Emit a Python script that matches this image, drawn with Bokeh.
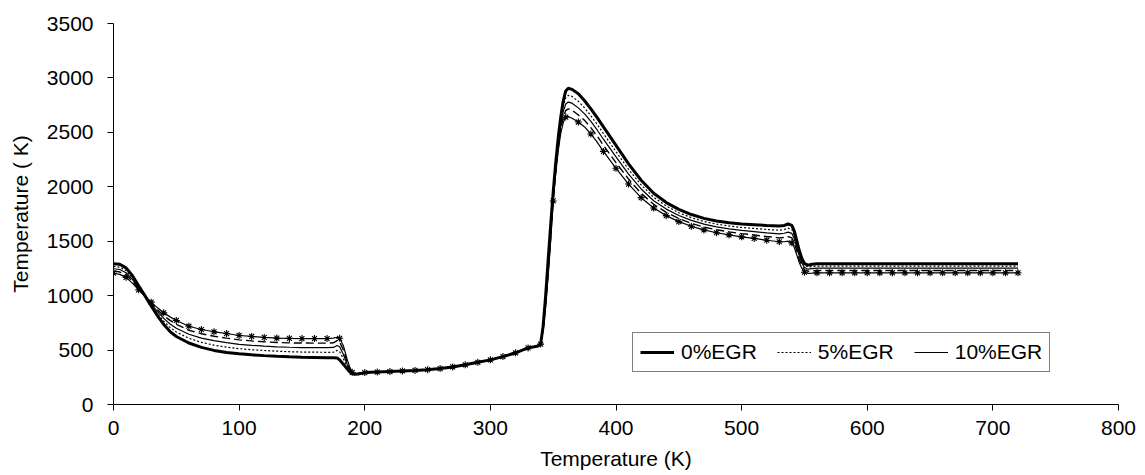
from bokeh.plotting import figure
from bokeh.models import Range1d, Legend, LegendItem, ColumnDataSource, CDSView, BooleanFilter, FixedTicker
from bokeh.embed import file_html
from bokeh.resources import INLINE

# ---------------- data ----------------
crank = [0, 5, 10, 15, 20, 25, 30, 35, 40, 45, 50, 60, 70, 80, 90, 100, 110, 120, 130, 140, 150, 160, 170, 175,
         178, 180, 183, 186, 188, 190, 192, 195,
         200, 210, 220, 230, 240, 250, 260, 270, 280, 290, 300, 310, 320, 330, 335, 338,
         340, 342, 344, 346, 348, 350, 352, 354, 356, 358, 360, 362, 365,
         370, 375, 380, 385, 390, 400, 410, 420, 430, 440, 450, 460, 470, 480, 490, 500, 510, 520, 530,
         534, 537, 540, 542, 544, 546, 548, 550, 553, 556, 560,
         570, 580, 590, 600, 610, 620, 630, 640, 650, 660, 670, 680, 690, 700, 710, 720]

egr0 = [1292, 1288, 1255, 1185, 1090, 1000, 905, 815, 735, 670, 625, 565, 525, 497, 478, 466, 456, 449, 443, 438, 434, 432, 430, 430,
        428, 410, 370, 328, 300, 284, 277, 280,
        293, 298, 303, 308, 313, 320, 330, 345, 365, 388, 410, 440, 475, 520, 530, 538,
        555, 720, 1000, 1330, 1650, 1950, 2220, 2450, 2640, 2790, 2880, 2905, 2895,
        2855, 2790, 2715, 2635, 2550, 2380, 2210, 2060, 1940, 1855, 1792, 1745, 1710, 1686, 1670, 1658, 1651, 1644, 1640,
        1645, 1658, 1645, 1590, 1500, 1410, 1340, 1295, 1280, 1288, 1292,
        1292, 1292, 1292, 1292, 1292, 1292, 1292, 1292, 1292, 1292, 1292, 1292, 1292, 1292, 1292, 1292]

egr5 = [1268, 1262, 1231, 1165, 1080, 999, 915, 835, 765, 708, 666, 608, 571, 545, 527, 513, 503, 496, 490, 485, 482, 481, 479, 480,
        497, 485, 420, 350, 312, 287, 279, 282,
        293, 298, 303, 308, 313, 320, 330, 345, 365, 388, 410, 440, 475, 520, 530, 538,
        555, 710, 975, 1290, 1610, 1930, 2190, 2415, 2600, 2740, 2820, 2840, 2830,
        2785, 2725, 2653, 2574, 2489, 2323, 2160, 2017, 1904, 1823, 1762, 1716, 1681, 1657, 1640, 1626, 1617, 1608, 1601,
        1608, 1620, 1608, 1555, 1470, 1385, 1320, 1278, 1263, 1268, 1272,
        1272, 1272, 1272, 1272, 1272, 1272, 1272, 1272, 1272, 1272, 1272, 1272, 1272, 1272, 1272, 1272]

egr10 = [1247, 1240, 1210, 1149, 1071, 997, 923, 853, 791, 740, 701, 645, 610, 586, 568, 553, 544, 536, 530, 526, 523, 522, 522, 524,
         542, 530, 460, 370, 322, 290, 281, 284,
         293, 298, 303, 308, 313, 320, 330, 345, 365, 388, 410, 440, 475, 520, 530, 538,
         555, 700, 950, 1250, 1570, 1910, 2165, 2385, 2565, 2690, 2760, 2778, 2768,
         2725, 2670, 2600, 2522, 2437, 2275, 2117, 1980, 1872, 1795, 1736, 1691, 1657, 1632, 1614, 1599, 1588, 1576, 1567,
         1573, 1583, 1572, 1522, 1440, 1360, 1300, 1258, 1243, 1248, 1252,
         1252, 1252, 1252, 1252, 1252, 1252, 1252, 1252, 1252, 1252, 1252, 1252, 1252, 1252, 1252, 1252]

egr15 = [1227, 1217, 1189, 1132, 1063, 996, 932, 870, 816, 773, 737, 682, 650, 627, 610, 594, 584, 576, 570, 566, 565, 564, 564, 567,
         587, 575, 500, 390, 332, 293, 283, 286,
         293, 298, 303, 308, 313, 320, 330, 345, 365, 388, 410, 440, 475, 520, 530, 538,
         555, 690, 925, 1215, 1535, 1890, 2140, 2355, 2525, 2640, 2700, 2716, 2705,
         2660, 2610, 2543, 2466, 2381, 2222, 2071, 1940, 1839, 1765, 1708, 1664, 1630, 1605, 1586, 1570, 1557, 1543, 1531,
         1535, 1542, 1530, 1482, 1405, 1330, 1275, 1237, 1224, 1228, 1231,
         1231, 1231, 1231, 1231, 1231, 1231, 1231, 1231, 1231, 1231, 1231, 1231, 1231, 1231, 1231, 1231]

egr20 = [1206, 1195, 1168, 1115, 1054, 995, 940, 888, 842, 805, 772, 719, 689, 668, 652, 634, 625, 616, 610, 607, 606, 606, 606, 610,
         618, 608, 540, 415, 345, 296, 285, 288,
         293, 298, 303, 308, 313, 320, 330, 345, 365, 388, 410, 440, 475, 520, 530, 538,
         555, 680, 900, 1180, 1500, 1870, 2120, 2330, 2490, 2590, 2640, 2645, 2630,
         2595, 2550, 2485, 2410, 2325, 2170, 2025, 1900, 1805, 1735, 1680, 1637, 1604, 1578, 1558, 1540, 1526, 1509, 1495,
         1495, 1500, 1485, 1440, 1370, 1300, 1250, 1215, 1205, 1207, 1210,
         1210, 1210, 1210, 1210, 1210, 1210, 1210, 1210, 1210, 1210, 1210, 1210, 1210, 1210, 1210, 1210]

legend_labels = ["0%EGR", "5%EGR", "10%EGR"]
x_ticks = [0, 100, 200, 300, 400, 500, 600, 700, 800]
y_ticks = [0, 500, 1000, 1500, 2000, 2500, 3000, 3500]
x_label = "Temperature (K)"
y_label = "Temperature ( K)"

# ---------------- figure ----------------
FONT = "Liberation Sans"
p = figure(width=1145, height=475, output_backend="svg", toolbar_location=None,
           x_range=Range1d(x_ticks[0], x_ticks[-1]), y_range=Range1d(y_ticks[0], y_ticks[-1]),
           min_border_left=113, min_border_right=27, min_border_top=23, min_border_bottom=71)
p.outline_line_color = None
p.xgrid.grid_line_color = None
p.ygrid.grid_line_color = None
p.background_fill_color = "white"
p.border_fill_color = "white"

for ax, ticks, lab in ((p.xaxis[0], x_ticks, x_label), (p.yaxis[0], y_ticks, y_label)):
    ax.ticker = FixedTicker(ticks=ticks)
    ax.axis_label = lab
    ax.axis_label_text_font = FONT
    ax.axis_label_text_font_size = "21px"
    ax.axis_label_text_font_style = "normal"
    ax.axis_label_text_color = "black"
    ax.major_label_text_font = FONT
    ax.major_label_text_font_size = "21px"
    ax.major_label_text_color = "black"
    ax.axis_line_color = "black"
    ax.axis_line_width = 1
    ax.major_tick_line_color = "black"
    ax.major_tick_out = 6
    ax.major_tick_in = 0
    ax.minor_tick_line_color = None
p.xaxis.major_label_standoff = 10
p.xaxis.axis_label_standoff = 9
p.yaxis.major_label_standoff = 14
p.yaxis.axis_label_standoff = 12

src = ColumnDataSource(dict(x=crank, e0=egr0, e5=egr5, e10=egr10, e15=egr15, e20=egr20))

r20 = p.line("x", "e20", source=src, line_color="black", line_width=1.2)
mask = [v % 10 == 0 for v in crank]
p.scatter("x", "e20", source=src, view=CDSView(filter=BooleanFilter(mask)),
          marker="asterisk", size=7, line_color="black", line_width=1.1)
r15 = p.line("x", "e15", source=src, line_color="black", line_width=1.4, line_dash="8 4")
r10 = p.line("x", "e10", source=src, line_color="black", line_width=1.2)
r5 = p.line("x", "e5", source=src, line_color="black", line_width=1.2, line_dash="2 2")
r0 = p.line("x", "e0", source=src, line_color="black", line_width=3)

legend = Legend(items=[LegendItem(label=legend_labels[0], renderers=[r0]),
                       LegendItem(label=legend_labels[1], renderers=[r5]),
                       LegendItem(label=legend_labels[2], renderers=[r10])],
                location=(519, 32), orientation="horizontal",
                label_text_font=FONT, label_text_font_size="21px", label_text_color="black",
                glyph_width=34, glyph_height=20, label_height=20, label_standoff=7, spacing=20,
                padding=7, margin=0, border_line_color="black", border_line_width=1,
                background_fill_color="white", background_fill_alpha=1)
p.add_layout(legend)

open("out.html", "w").write(file_html(p, INLINE))
